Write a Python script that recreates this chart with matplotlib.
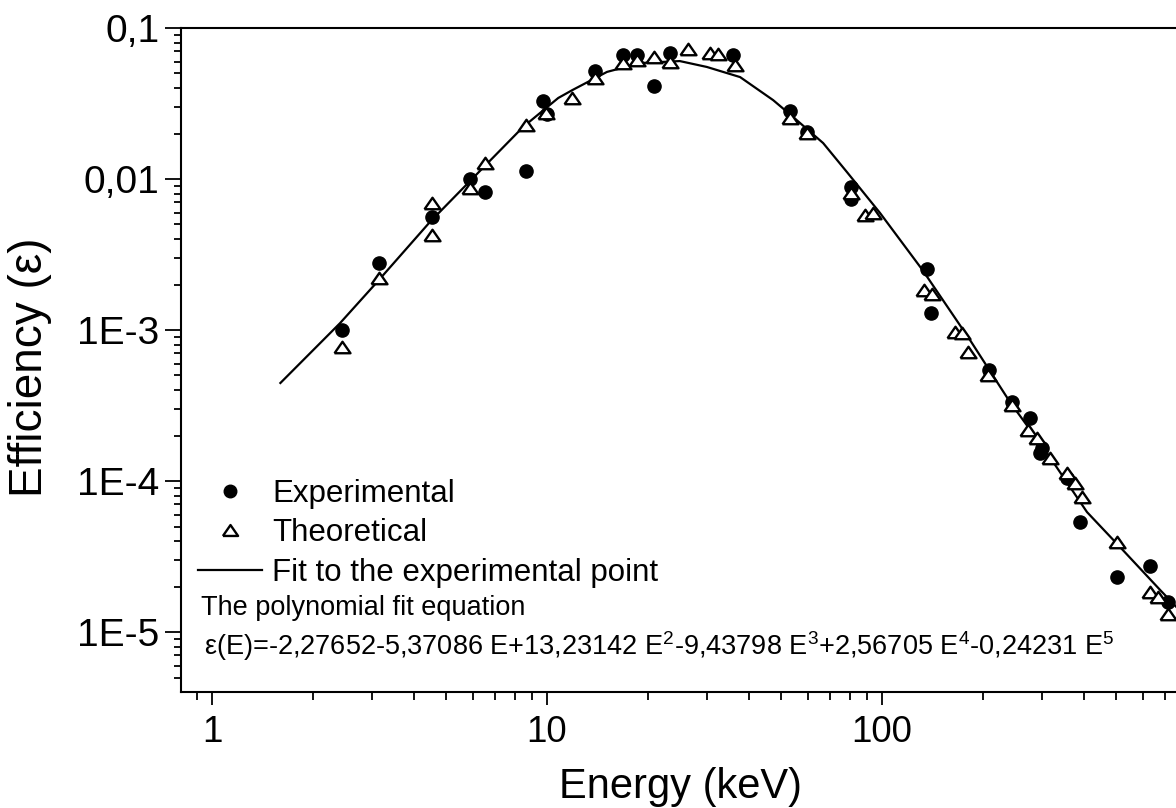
import matplotlib
matplotlib.use("Agg")
import matplotlib.pyplot as plt
from matplotlib.ticker import FixedLocator, FixedFormatter, LogLocator, NullFormatter

plt.rcParams['font.family'] = ['Liberation Sans', 'DejaVu Sans']
plt.rcParams['mathtext.fontset'] = 'custom'
plt.rcParams['mathtext.rm'] = 'Liberation Sans'
plt.rcParams['mathtext.it'] = 'Liberation Sans'
plt.rcParams['mathtext.bf'] = 'Liberation Sans'

# ---- data ----
exp_E = [2.44, 3.15, 4.54, 5.89, 6.53, 8.66, 9.73, 10.0, 13.9, 16.9, 18.6, 20.9,
         23.3, 35.9, 53.1, 59.7, 80.8, 80.8, 136, 140, 208, 244, 277, 301, 297,
         357, 390, 503, 631, 714]
exp_eff = [1.00e-3, 2.78e-3, 5.60e-3, 1.00e-2, 8.20e-3, 1.13e-2, 3.29e-2, 2.69e-2,
           5.19e-2, 6.62e-2, 6.62e-2, 4.13e-2, 6.83e-2, 6.62e-2, 2.82e-2, 2.05e-2,
           8.85e-3, 7.38e-3, 2.54e-3, 1.30e-3, 5.43e-4, 3.33e-4, 2.61e-4, 1.66e-4,
           1.53e-4, 1.05e-4, 5.35e-5, 2.31e-5, 2.74e-5, 1.58e-5]

theo_E = [2.44, 3.15, 4.54, 4.54, 5.89, 6.53, 8.66, 9.93, 11.9, 13.9, 16.9, 18.6,
          20.9, 23.3, 26.4, 30.7, 32.4, 36.4, 53.1, 59.7, 80.8, 89.0, 94.0, 133,
          141, 165, 173, 181, 207, 244, 273, 290, 317, 357, 377, 395, 503, 631,
          667, 714]
theo_eff = [7.71e-4, 2.21e-3, 6.93e-3, 4.26e-3, 8.71e-3, 1.28e-2, 2.28e-2, 2.74e-2,
            3.44e-2, 4.67e-2, 5.86e-2, 6.14e-2, 6.43e-2, 5.96e-2, 7.26e-2, 6.83e-2,
            6.73e-2, 5.69e-2, 2.54e-2, 2.02e-2, 8.07e-3, 5.78e-3, 5.96e-3, 1.84e-3,
            1.73e-3, 9.70e-4, 9.55e-4, 7.15e-4, 5.04e-4, 3.18e-4, 2.18e-4, 1.93e-4,
            1.42e-4, 1.13e-4, 9.70e-5, 7.83e-5, 3.94e-5, 1.84e-5, 1.71e-5, 1.32e-5]

fit_E = [1.60, 2.41, 3.11, 4.47, 5.81, 8.48, 10.8, 11.9, 15.1, 19.0, 24.9, 30.0,
         37.7, 47.3, 54.2, 66.7, 78.6, 98.6, 132, 183, 241, 311, 409, 513, 676, 755]
fit_eff = [4.46e-4, 1.11e-3, 2.08e-3, 5.19e-3, 9.4e-3, 2.21e-2, 3.44e-2, 3.88e-2,
           5.12e-2, 5.86e-2, 6.04e-2, 5.52e-2, 4.73e-2, 3.33e-2, 2.58e-2, 1.73e-2,
           1.11e-2, 5.96e-3, 2.50e-3, 8.59e-4, 3.33e-4, 1.53e-4, 6.23e-5, 3.66e-5,
           1.90e-5, 1.47e-5]

x_ticks = [1, 10, 100]
x_labels = ['1', '10', '100']
y_ticks = [1e-5, 1e-4, 1e-3, 1e-2, 1e-1]
y_labels = ['1E-5', '1E-4', '1E-3', '0,01', '0,1']

legend_labels = ['Experimental', 'Theoretical', 'Fit to the experimental point']
note_title = 'The polynomial fit equation'
note_eq = (r'ε(E)=-2,27652-5,37086 E+13,23142 E$^{2}$-9,43798 E$^{3}$'
           r'+2,56705 E$^{4}$-0,24231 E$^{5}$')

# ---- figure ----
W, H = 1176, 808
fig = plt.figure(figsize=(W / 100, H / 100), dpi=100)
ax = fig.add_axes([181 / W, 116 / H, 999 / W, 664 / H])
ax.set_xscale('log')
ax.set_yscale('log')
ax.set_xlim(0.808, 775)
ax.set_ylim(4.01e-6, 0.1)

tri = [(-1, -0.72), (1, -0.72), (0, 0.72), (-1, -0.72)]

fit_line, = ax.plot(fit_E, fit_eff, color='black', lw=1.6, zorder=2)
exp_pts, = ax.plot(exp_E, exp_eff, ls='none', marker='o', ms=9.5,
                   mfc='black', mec='black', mew=1, zorder=3)
theo_pts, = ax.plot(theo_E, theo_eff, ls='none', marker=tri, ms=11.5,
                    mfc='white', mec='black', mew=1.7, zorder=4)

for s in ['left', 'bottom', 'top']:
    ax.spines[s].set_linewidth(1.5)
ax.spines['right'].set_visible(False)

ax.xaxis.set_major_locator(FixedLocator(x_ticks))
ax.xaxis.set_major_formatter(FixedFormatter(x_labels))
ax.yaxis.set_major_locator(FixedLocator(y_ticks))
ax.yaxis.set_major_formatter(FixedFormatter(y_labels))
ax.xaxis.set_minor_locator(LogLocator(base=10, subs=range(2, 10), numticks=20))
ax.yaxis.set_minor_locator(LogLocator(base=10, subs=range(2, 10), numticks=20))
ax.xaxis.set_minor_formatter(NullFormatter())
ax.yaxis.set_minor_formatter(NullFormatter())

ax.tick_params(axis='both', which='both', direction='out', top=False, right=False,
               width=1.3, colors='black')
ax.tick_params(axis='y', which='major', length=11.5, pad=4, labelsize=28)
ax.tick_params(axis='y', which='minor', length=5)
ax.tick_params(axis='x', which='major', length=9.5, pad=7, labelsize=26.5)
ax.tick_params(axis='x', which='minor', length=6)

ax.set_xlabel('Energy (keV)', fontsize=30)
ax.set_ylabel('Efficiency (ε)', fontsize=33)
ax.xaxis.set_label_coords(0.5, -0.113)
ax.yaxis.set_label_coords(-0.129, 0.489)

leg = fig.legend([exp_pts, theo_pts, fit_line], legend_labels,
                 loc='upper left', bbox_to_anchor=(198 / W, (H - 479) / H),
                 frameon=False, fontsize=22.5, borderpad=0, borderaxespad=0,
                 handlelength=2.05, handletextpad=0.33, labelspacing=0.3,
                 markerscale=0.95, numpoints=1)

fig.text(201 / W, (H - 615) / H, note_title, fontsize=19.5, va='baseline', ha='left')
fig.text(204 / W, (H - 655) / H, note_eq, fontsize=19.5, va='baseline', ha='left')

fig.savefig('out.png', dpi=100)
